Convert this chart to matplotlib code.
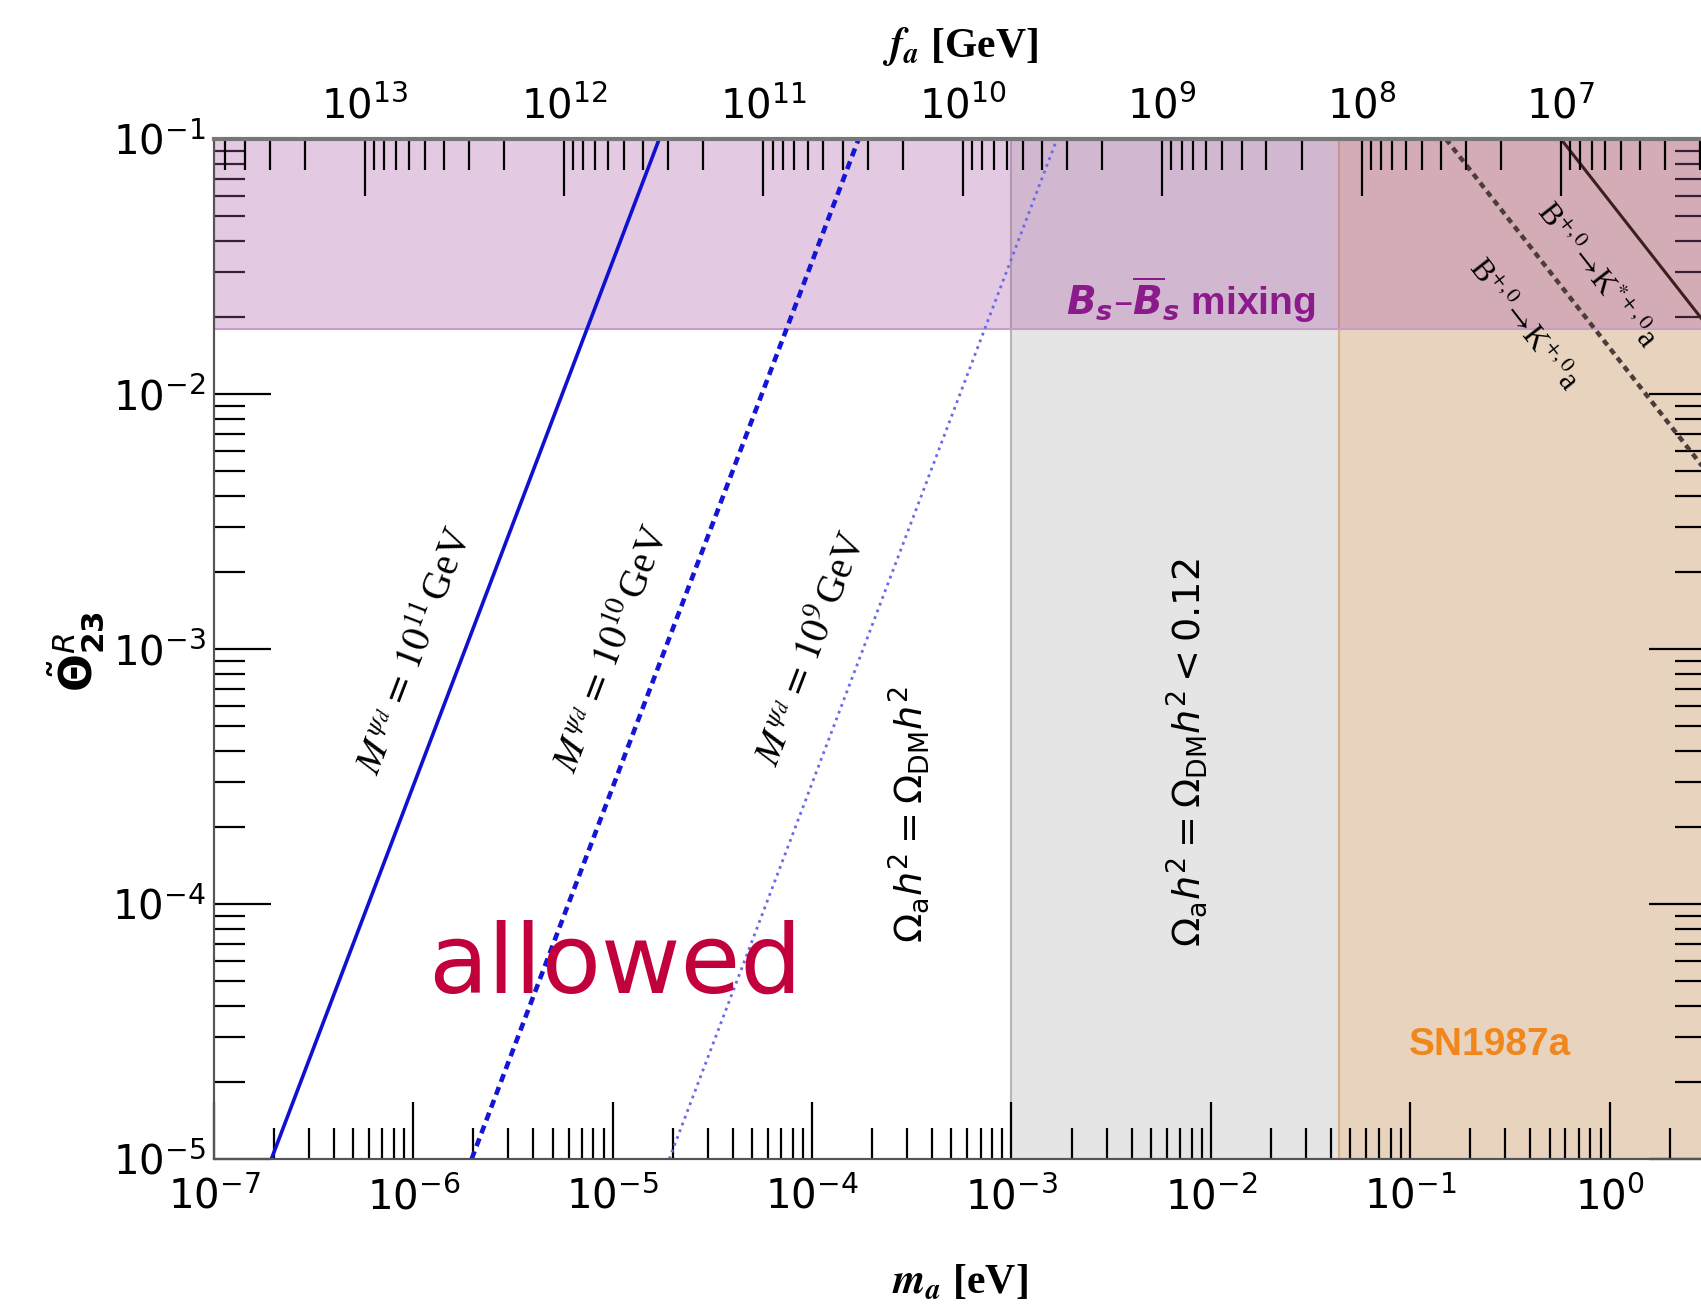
import numpy as np
import matplotlib
matplotlib.use('Agg')
import matplotlib.pyplot as plt
from matplotlib.ticker import LogLocator, NullFormatter

# axis ranges (m_a in eV, theta dimensionless)
M_MIN, M_MAX = 1e-7, 10 ** 0.483
THETA_MIN, THETA_MAX = 1e-5, 1e-1
FA_TIMES_MA = 5.7e6  # f_a [GeV] * m_a [eV]

# excluded regions
bs_mixing_theta = [0.018, 0.1]
relic_m = [1e-3, 0.044]
sn1987a_m = [0.044, 4.0]

# iso-M^{psi_d} lines: m_a at theta = 1e-5 and at theta = 1e-1
mpsi_labels = ['10^{11}', '10^{10}', '10^{9}']
mpsi_m_bottom = [1.94e-7, 1.96e-6, 1.92e-5]
mpsi_m_top = [1.71e-5, 1.71e-4, 1.69e-3]
mpsi_label_m = [1.03e-6, 1.0e-5, 1.0e-4]
mpsi_label_theta = [9.8e-4, 1.0e-3, 1.0e-3]

# B -> K a bounds: (m_a, theta) of the two ends
bk_star_m = [0.57, 3.04]
bk_star_theta = [0.1, 0.0188]
bk_m = [0.151, 3.04]
bk_theta = [0.1, 0.0050]

plt.rcParams['mathtext.fontset'] = 'dejavusans'

fig = plt.figure(figsize=(17.01, 13.12), dpi=100)
ax = fig.add_axes([0.1258, 0.1166, 0.8771, 0.7774])
ax.set_xscale('log')
ax.set_yscale('log')
ax.set_xlim(M_MIN, M_MAX)
ax.set_ylim(THETA_MIN, THETA_MAX)

# shaded regions
ax.axvspan(relic_m[0], relic_m[1], facecolor='#e5e5e5', edgecolor='#b5b5b5', lw=1.5, zorder=1)
ax.axvspan(sn1987a_m[0], sn1987a_m[1], facecolor='#e8d4be', edgecolor='#d8b08a', lw=1.5, zorder=1)
ax.axhspan(bs_mixing_theta[0], bs_mixing_theta[1], facecolor=(172/255, 92/255, 168/255, 0.33),
           edgecolor='#c49ec6', lw=1.5, zorder=2)

# iso-M lines
styles = [dict(color='#1010d0', lw=2.6, ls='-'),
          dict(color='#1515d5', lw=3.3, ls=(0, (1.8, 1.2))),
          dict(color='#6a6ae8', lw=2.0, ls=(0, (1.0, 1.6)))]
for mb, mt, st in zip(mpsi_m_bottom, mpsi_m_top, styles):
    ax.plot([mb, mt], [THETA_MIN, THETA_MAX], zorder=3, **st)

for lab, xm, yt in zip(mpsi_labels, mpsi_label_m, mpsi_label_theta):
    ax.text(xm, yt, r'$M^{\psi_d}\,=\,' + lab + r'\,$GeV', rotation=69, ha='center', va='center',
            fontsize=28, family='Liberation Serif', math_fontfamily='stix', zorder=4)

# B -> K a lines
ax.plot(bk_star_m, bk_star_theta, color='#3b2020', lw=2.2, zorder=3)
ax.plot(bk_m, bk_theta, color='#4d3d3a', lw=3.2, ls=(0, (1.4, 1.1)), zorder=3)
ax.text(0.849, 0.0290, r'B$^{+,0}\!\rightarrow\!$K$^{*+,0}$a', rotation=-52, ha='center', va='center',
        fontsize=22, family='Liberation Serif', math_fontfamily='stix', zorder=4)
ax.text(0.363, 0.0186, r'B$^{+,0}\!\rightarrow\!$K$^{+,0}$a', rotation=-52, ha='center', va='center',
        fontsize=22, family='Liberation Serif', math_fontfamily='stix', zorder=4)

# relic abundance labels
ax.text(3.05e-4, 2.25e-4, r'$\Omega_{\mathrm{a}}h^2=\Omega_{\mathrm{DM}}h^2$', rotation=90,
        ha='center', va='center', fontsize=27.5, zorder=4)
ax.text(7.59e-3, 3.94e-4, r'$\Omega_{\mathrm{a}}h^2=\Omega_{\mathrm{DM}}h^2<0.12$', rotation=90,
        ha='center', va='center', fontsize=27.5, zorder=4)

# region names
ax.text(7.9e-3, 0.0205, r'$\mathbfit{B_s}$–$\mathbfit{\overline{B}_s}$ mixing', ha='center', va='baseline',
        fontsize=28, color='#8b1a8b', weight='bold',
        family=['Liberation Sans Narrow', 'Liberation Sans'], zorder=4)
ax.text(0.252, 2.56e-5, 'SN1987a', ha='center', va='baseline', fontsize=28, color='#f0861c',
        weight='bold', family=['Liberation Sans Narrow', 'Liberation Sans'], zorder=4)
ax.text(1.03e-5, 4.48e-5, 'allowed', ha='center', va='baseline', fontsize=70, color='#c2003c',
        family='DejaVu Sans', zorder=4)

# ticks
ax.xaxis.set_major_locator(LogLocator(base=10, numticks=100))
ax.xaxis.set_minor_locator(LogLocator(base=10, subs=np.arange(2, 10), numticks=100))
ax.yaxis.set_major_locator(LogLocator(base=10, numticks=100))
ax.yaxis.set_minor_locator(LogLocator(base=10, subs=np.arange(2, 10), numticks=100))
ax.xaxis.set_minor_formatter(NullFormatter())
ax.yaxis.set_minor_formatter(NullFormatter())
ax.tick_params(which='both', direction='in', top=False, right=True, width=1.6, colors='black',
               labelsize=29)
ax.tick_params(which='major', length=41)
ax.tick_params(which='minor', length=22)
ax.tick_params(axis='x', pad=13)
ax.tick_params(axis='y', pad=6)

ax2 = ax.twiny()
ax2.set_xscale('log')
ax2.set_xlim(FA_TIMES_MA / M_MIN, FA_TIMES_MA / M_MAX)
ax2.xaxis.set_major_locator(LogLocator(base=10, numticks=100))
ax2.xaxis.set_minor_locator(LogLocator(base=10, subs=np.arange(2, 10), numticks=100))
ax2.xaxis.set_minor_formatter(NullFormatter())
ax2.tick_params(which='both', direction='in', width=1.6, labelsize=29, pad=8)
ax2.tick_params(which='major', length=41)
ax2.tick_params(which='minor', length=22)

for a in [ax, ax2]:
    for s in a.spines.values():
        s.set_color('#555555')
        s.set_linewidth(1.5)
ax2.spines['top'].set_color('#777777')
ax2.spines['top'].set_linewidth(3)

fig.text(960 / 1701, 1 - 46 / 1312, r'$\mathbfit{f_a}$ [GeV]', ha='center', va='center', fontsize=30,
         weight='bold', family='Liberation Serif', math_fontfamily='stix')
fig.text(960 / 1701, 1 - 1283 / 1312, r'$\mathbfit{m_a}$ [eV]', ha='center', va='center', fontsize=30,
         weight='bold', family='Liberation Serif', math_fontfamily='stix')
fig.text(76 / 1701, 1 - 651 / 1312, r'$\tilde{\mathbf{\Theta}}^{R}_{\mathbf{23}}$', rotation=90,
         ha='center', va='center', fontsize=32)

fig.savefig('out.png', dpi=100)
